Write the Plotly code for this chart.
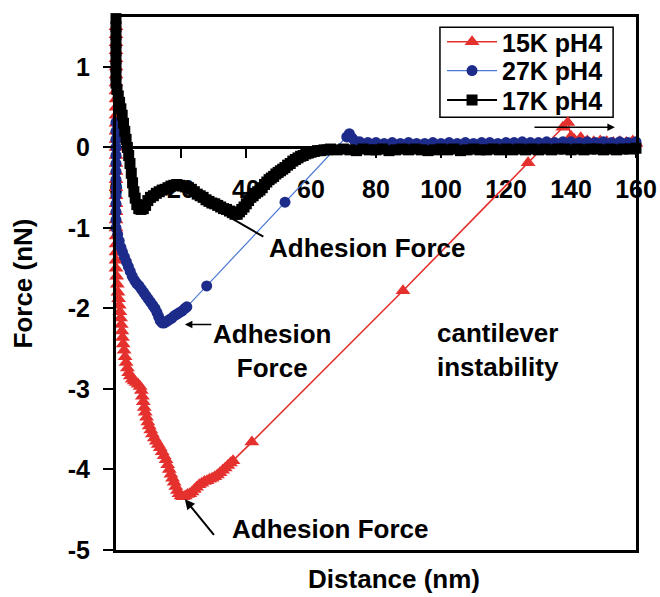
import plotly.graph_objects as go

# ---------------- data ----------------
names = ["15K pH4", "27K pH4", "17K pH4"]

red_x = [0, 0, 0, 0, 0, 0, 0, 0, 0, 0, 0, 0, 0, 0, 0, 0, 0, 0, 0, 0, 0, 0, 0, 0, 0, 0, 0, 0, 0, 0, 0,
         0.2, 0.4, 0.6, 0.8, 1.0, 1.2, 1.4, 1.6, 1.8, 2.0, 2.2, 2.5, 2.8, 3.1, 3.5, 3.9, 4.4,
         5.0, 5.6, 6.2, 6.8, 7.4, 7.8, 8.1, 8.4, 8.7, 9.0, 9.4, 9.8, 10.2, 10.7, 11.2, 11.8,
         12.4, 13.0, 13.6, 14.2, 14.8, 15.4, 15.9, 16.4, 16.9, 17.4, 17.9, 18.4, 18.9, 19.4,
         20.0, 20.6, 21.3, 22.0, 22.7, 23.4, 24.1, 24.8, 25.6, 26.4, 27.2, 28.0, 28.8, 29.6,
         30.4, 31.2, 32.0, 32.8, 33.6, 34.4, 35.2, 36.0,
         41.8, 88.3, 126.8, 137.5, 139.0, 140.0, 141, 143, 145, 147, 149, 151, 153, 155, 157, 159, 160]
red_y = [1.5, 1.4, 1.3, 1.2, 1.1, 1.0, 0.9, 0.8, 0.7, 0.6, 0.5, 0.4, 0.3, 0.2, 0.1, 0.0,
         -0.1, -0.2, -0.3, -0.4, -0.5, -0.6, -0.7, -0.8, -0.9, -1.0, -1.1, -1.2, -1.3, -1.4, -1.5,
         -1.6, -1.7, -1.8, -1.88, -1.96, -2.04, -2.12, -2.2, -2.28, -2.36, -2.44, -2.52, -2.6, -2.67, -2.74, -2.8, -2.84,
         -2.88, -2.9, -2.92, -2.94, -2.97, -3.02, -3.09, -3.16, -3.23, -3.29, -3.35, -3.41, -3.46, -3.51, -3.56, -3.61,
         -3.65, -3.69, -3.73, -3.78, -3.83, -3.88, -3.94, -4.0, -4.06, -4.11, -4.16, -4.21, -4.26, -4.3,
         -4.33, -4.34, -4.33, -4.31, -4.3, -4.28, -4.25, -4.22, -4.19, -4.17, -4.15, -4.14, -4.12, -4.11,
         -4.09, -4.07, -4.04, -4.01, -3.98, -3.95, -3.92, -3.89,
         -3.66, -1.78, -0.19, 0.25, 0.31, 0.14, 0.1, 0.12, 0.08, 0.07, 0.08, 0.07, 0.06, 0.07, 0.06, 0.08, 0.05]

blue_x = [0, 0, 0, 0, 0, 0, 0, 0, 0, 0, 0, 0, 0, 0,
          0.5, 1.0, 1.5, 2.0, 2.6, 3.2, 3.8, 4.4, 5.0, 5.7, 6.4, 7.1, 7.8, 8.5, 9.2, 9.9,
          10.6, 11.3, 12.0, 12.6, 13.1, 13.6, 14.2, 14.9, 15.6, 16.4, 17.2, 18.0, 18.8,
          19.6, 20.4, 21.2, 21.8, 27.9, 52.0, 71.0, 71.8, 72.6, 73.5,
          75, 77.5, 80, 82.5, 85, 87.5, 90, 92.5, 95, 97.5, 100, 102.5, 105, 107.5, 110,
          112.5, 115, 117.5, 120, 122.5, 125, 127.5, 130, 132.5, 135, 137.5, 140, 142.5,
          145, 147.5, 150, 152.5, 155, 157.5, 160]
blue_y = [0.31, 0.2, 0.1, 0.0, -0.1, -0.2, -0.3, -0.4, -0.5, -0.6, -0.7, -0.8, -0.9, -1.0,
          -1.08, -1.16, -1.24, -1.3, -1.36, -1.42, -1.48, -1.54, -1.6, -1.65, -1.69, -1.72, -1.76, -1.8, -1.84, -1.88,
          -1.92, -1.96, -2.0, -2.05, -2.1, -2.15, -2.18, -2.18, -2.16, -2.14, -2.12, -2.09, -2.07,
          -2.05, -2.03, -2.0, -1.98, -1.72, -0.68, 0.13, 0.17, 0.12, 0.08,
          0.07, 0.06, 0.06, 0.05, 0.06, 0.05, 0.06, 0.05, 0.05, 0.06, 0.05, 0.06, 0.05, 0.06, 0.05,
          0.06, 0.06, 0.05, 0.06, 0.06, 0.07, 0.06, 0.06, 0.07, 0.06, 0.07, 0.07, 0.06,
          0.07, 0.06, 0.07, 0.06, 0.07, 0.06, 0.07]

black_x = [0, 0, 0, 0, 0, 0, 0, 0, 0,
           0.3, 0.7, 1.1, 1.5, 1.9, 2.3, 2.7, 3.1, 3.5, 3.9, 4.3, 4.7, 5.1, 5.5, 5.9, 6.4,
           7.0, 7.7, 8.4, 9.1, 9.8, 10.6, 11.5, 12.4, 13.3, 14.2, 15.1, 16.0, 16.9, 17.8,
           18.7, 19.6, 20.5, 21.4, 22.3, 23.2, 24.1, 25.0, 25.9, 26.8, 27.7, 28.6, 29.5,
           30.4, 31.3, 32.2, 33.1, 34.0, 34.9, 35.8, 36.6, 37.3, 38.0, 38.7, 39.4, 40.1,
           40.8, 41.5, 42.2, 42.9, 43.6, 44.3, 45.0, 45.7, 46.4, 47.1, 47.8, 48.5, 49.2,
           49.9, 50.6, 51.3, 52.0, 52.8, 53.6, 54.4, 55.2, 56.0, 56.8, 57.6, 58.4, 59.2,
           60.0, 61, 62, 63, 64, 65, 66, 68, 70, 72, 74, 76, 78, 80, 82, 84, 86, 88, 90,
           92, 94, 96, 98, 100, 102, 104, 106, 108, 110, 112, 114, 116, 118, 120, 122, 124,
           126, 128, 130, 132, 134, 136, 138, 140, 142, 144, 146, 148, 150, 152, 154, 156, 158, 160]
black_y = [1.6, 1.5, 1.4, 1.3, 1.2, 1.1, 1.0, 0.9, 0.8,
           0.72, 0.64, 0.56, 0.48, 0.4, 0.3, 0.2, 0.1, 0.0, -0.1, -0.2, -0.32, -0.44, -0.55, -0.63, -0.71,
           -0.76, -0.77, -0.76, -0.72, -0.66, -0.62, -0.6, -0.57, -0.55, -0.53, -0.52, -0.5, -0.48, -0.47,
           -0.46, -0.47, -0.48, -0.49, -0.5, -0.52, -0.55, -0.58, -0.6, -0.62, -0.65, -0.67, -0.69,
           -0.7, -0.72, -0.74, -0.76, -0.77, -0.79, -0.81, -0.83, -0.83, -0.8, -0.77, -0.74, -0.7,
           -0.66, -0.62, -0.6, -0.57, -0.55, -0.53, -0.5, -0.46, -0.43, -0.4, -0.38, -0.36, -0.33,
           -0.31, -0.29, -0.27, -0.25, -0.22, -0.2, -0.17, -0.15, -0.13, -0.11, -0.1, -0.08, -0.07,
           -0.06, -0.05, -0.04, -0.04, -0.03, -0.03, -0.02, -0.03, -0.02, -0.03, -0.04, -0.02, -0.03, -0.03, -0.02, -0.04, -0.03, -0.02, -0.03,
           -0.02, -0.03, -0.04, -0.03, -0.02, -0.03, -0.02, -0.04, -0.03, -0.02, -0.03, -0.03, -0.02, -0.03, -0.02, -0.03, -0.02,
           -0.03, -0.02, -0.03, -0.02, -0.03, -0.02, -0.02, -0.03, -0.02, -0.03, -0.02, -0.02, -0.03, -0.02, -0.03, -0.02, -0.02, -0.01]

x_tick_vals = [0, 20, 40, 60, 80, 100, 120, 140, 160]
x_tick_text = ["0", "20", "40", "60", "80", "100", "120", "140", "160"]
y_tick_vals = [1, 0, -1, -2, -3, -4, -5]
y_tick_text = ["1", "0", "-1", "-2", "-3", "-4", "-5"]

# ---------------- styling ----------------
FAM = "Liberation Sans, Arial, sans-serif"
def F(size):
    return dict(family=FAM, size=size, color="black", weight="bold")

RED = "#e5312e"
NAVY = "#1d2b8a"
LBLUE = "#4a78d4"

fig = go.Figure()
fig.add_trace(go.Scatter(x=red_x, y=red_y, name=names[0], mode="lines+markers",
                         line=dict(color=RED, width=1.6),
                         marker=dict(symbol="triangle-up", size=13, color=RED),
                         cliponaxis=False, legend="legend"))
fig.add_trace(go.Scatter(x=blue_x, y=blue_y, name=names[1], mode="lines+markers",
                         line=dict(color=LBLUE, width=1.2),
                         marker=dict(symbol="circle", size=11, color=NAVY),
                         cliponaxis=False, legend="legend2"))
fig.add_trace(go.Scatter(x=black_x, y=black_y, name=names[2], mode="lines+markers",
                         line=dict(color="black", width=2),
                         marker=dict(symbol="square", size=11, color="black"),
                         cliponaxis=False, legend="legend3", xaxis="x2"))

YMIN, YMAX = -5, 1.62
zero_pos = (0 - YMIN) / (YMAX - YMIN)

LEG_X = 0.627
def LEG(y):
    return dict(x=LEG_X, xanchor="left", y=y, yanchor="middle", font=F(25), itemwidth=50,
                bgcolor="rgba(0,0,0,0)", borderwidth=0, visible=True)

fig.update_layout(
    width=660, height=597, showlegend=True,
    margin=dict(l=116, r=24, t=17, b=47),
    paper_bgcolor="white", plot_bgcolor="white",
    xaxis=dict(range=[0, 160], showline=True, linewidth=3, linecolor="black", mirror=True,
               ticks="", showticklabels=False, showgrid=False, zeroline=False,
               title=dict(text="&nbsp;&nbsp;&nbsp;&nbsp;&nbsp;Distance (nm)", font=F(26), standoff=18),
               automargin=False),
    xaxis2=dict(range=[0, 160], overlaying="x", anchor="free", position=zero_pos, side="bottom",
                showline=True, linewidth=3, linecolor="black",
                ticks="outside", ticklen=9, tickwidth=2, tickcolor="black",
                tickvals=x_tick_vals, ticktext=x_tick_text, tickfont=F(25),
                ticklabelstandoff=10, showgrid=False, zeroline=False,
                layer="below traces", automargin=False),
    yaxis=dict(range=[YMIN, YMAX], showline=True, linewidth=3, linecolor="black", mirror=True,
               ticks="outside", ticklen=10, tickwidth=2, tickcolor="black",
               tickvals=y_tick_vals, ticktext=y_tick_text, tickfont=F(25),
               ticklabelstandoff=8, showgrid=False, zeroline=False,
               title=dict(text="Force (nN)", font=F(26), standoff=28), automargin=False),
    legend=LEG(0.953),
    legend2=LEG(0.899),
    legend3=LEG(0.844),
    shapes=[dict(type="rect", xref="paper", yref="paper", x0=0.623, x1=0.956, y0=0.812, y1=0.981,
                 line=dict(color="black", width=1.5), fillcolor="white", layer="below")],
)

ann = []
# arrows (no text)
ann.append(dict(x=36, y=-0.89, ax=45.8, ay=-1.12, xref="x", yref="y", axref="x", ayref="y",
                text="", showarrow=True, arrowhead=0, arrowwidth=2, arrowcolor="black"))
ann.append(dict(x=21.2, y=-2.2, ax=29.8, ay=-2.2, xref="x", yref="y", axref="x", ayref="y",
                text="", showarrow=True, arrowhead=2, arrowsize=1, arrowwidth=1.5, arrowcolor="black"))
ann.append(dict(x=21.2, y=-4.37, ax=30.5, ay=-4.83, xref="x", yref="y", axref="x", ayref="y",
                text="", showarrow=True, arrowhead=2, arrowsize=1, arrowwidth=2, arrowcolor="black"))
ann.append(dict(x=153.5, y=0.25, ax=128.3, ay=0.25, xref="x", yref="y", axref="x", ayref="y",
                text="", showarrow=True, arrowhead=2, arrowsize=1, arrowwidth=1.5, arrowcolor="black"))
# texts
ann.append(dict(x=46.5, y=-1.25, xref="x", yref="y", text="Adhesion Force", showarrow=False,
                xanchor="left", yanchor="middle", font=F(26)))
ann.append(dict(x=48, y=-2.53, xref="x", yref="y", text="Adhesion<br>Force", showarrow=False,
                xanchor="center", yanchor="middle", align="center", font=F(26)))
ann.append(dict(x=35.1, y=-4.74, xref="x", yref="y", text="Adhesion Force", showarrow=False,
                xanchor="left", yanchor="middle", font=F(26)))
ann.append(dict(x=117.5, y=-2.51, xref="x", yref="y", text="cantilever<br>instability", showarrow=False,
                xanchor="center", yanchor="middle", align="center", font=F(26)))
fig.update_layout(annotations=ann)

fig.write_html("out.html")
